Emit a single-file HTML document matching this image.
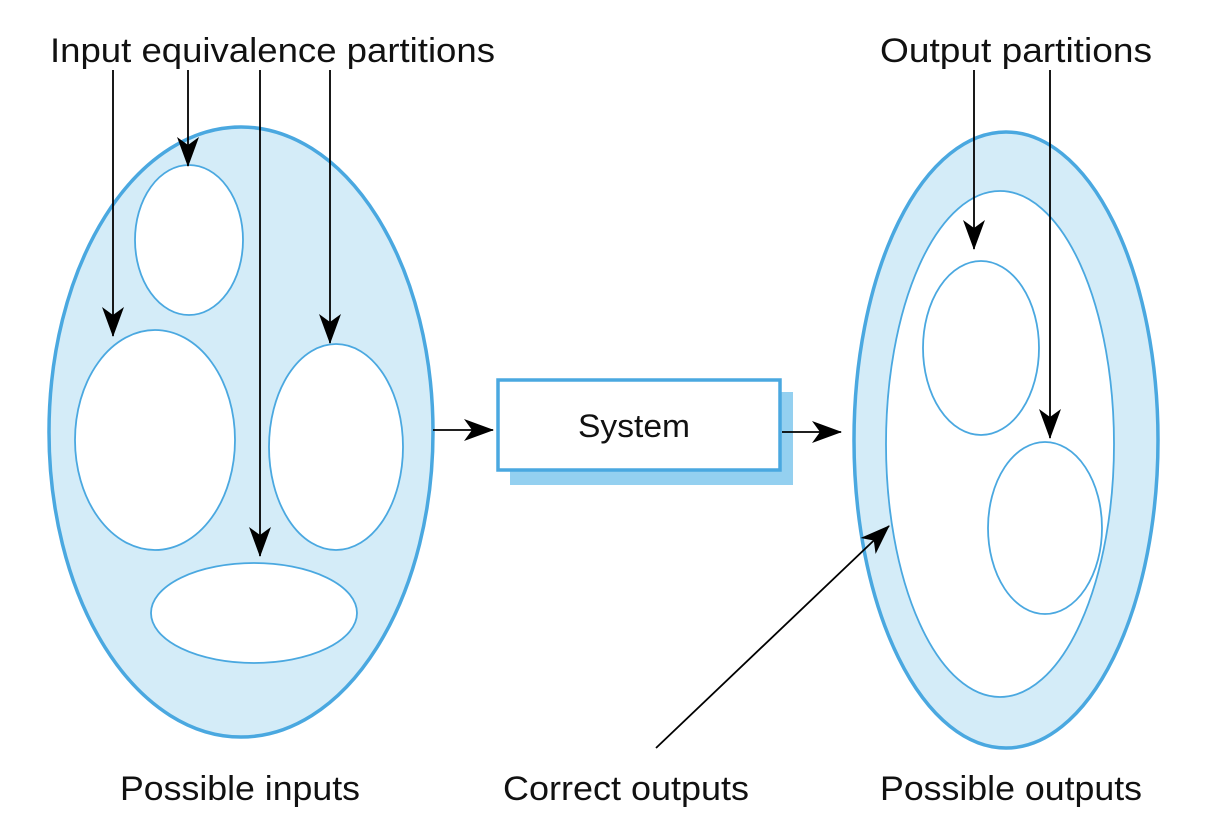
<!DOCTYPE html>
<html><head><meta charset="utf-8"><style>
html,body{margin:0;padding:0;background:#fff;}
svg{display:block;}
text{font-family:"Liberation Sans",sans-serif;fill:#111;}
</style></head><body>
<svg width="1214" height="824" viewBox="0 0 1214 824" xmlns="http://www.w3.org/2000/svg">
<defs>
<marker id="b" markerWidth="30" markerHeight="22" refX="29" refY="11" orient="auto" markerUnits="userSpaceOnUse">
<path d="M0,0 L30,11 L0,22 L8,11 Z" fill="#000"/>
</marker>
</defs>
<ellipse cx="241" cy="432" rx="192" ry="305" fill="#d4ecf8" stroke="#4aa8e0" stroke-width="3.5"/>
<g fill="#fff" stroke="#4aa8e0" stroke-width="1.8">
<ellipse cx="189" cy="240" rx="54" ry="75"/>
<ellipse cx="155" cy="440" rx="80" ry="110"/>
<ellipse cx="336" cy="447" rx="67" ry="103"/>
<ellipse cx="254" cy="613" rx="103" ry="50"/>
</g>
<ellipse cx="1006" cy="440" rx="152" ry="308" fill="#d4ecf8" stroke="#4aa8e0" stroke-width="3.5"/>
<g fill="#fff" stroke="#4aa8e0" stroke-width="1.8">
<ellipse cx="1000" cy="444" rx="114" ry="253"/>
<ellipse cx="981" cy="348" rx="58" ry="87"/>
<ellipse cx="1045" cy="528" rx="57" ry="86"/>
</g>
<rect x="510" y="392" width="283" height="93" fill="#94d0f0"/>
<rect x="498" y="380" width="282" height="90" fill="#fff" stroke="#4aa8e0" stroke-width="3.5"/>
<text x="578" y="437" font-size="32" textLength="112" lengthAdjust="spacingAndGlyphs">System</text>
<g stroke="#000" stroke-width="1.8" fill="none">
<line x1="113" y1="70" x2="113" y2="336" marker-end="url(#b)"/>
<line x1="188" y1="70" x2="188" y2="166" marker-end="url(#b)"/>
<line x1="260" y1="70" x2="260" y2="556" marker-end="url(#b)"/>
<line x1="330" y1="70" x2="330" y2="343" marker-end="url(#b)"/>
<line x1="974" y1="70" x2="974" y2="249" marker-end="url(#b)"/>
<line x1="1050" y1="70" x2="1050" y2="438" marker-end="url(#b)"/>
<line x1="433" y1="430" x2="493" y2="430" marker-end="url(#b)"/>
<line x1="782" y1="432" x2="841" y2="432" marker-end="url(#b)"/>
<line x1="656" y1="748" x2="889" y2="526" marker-end="url(#b)"/>
</g>
<g font-size="34" lengthAdjust="spacingAndGlyphs">
<text x="50" y="62" textLength="445" lengthAdjust="spacingAndGlyphs">Input equivalence partitions</text>
<text x="880" y="62" textLength="272" lengthAdjust="spacingAndGlyphs">Output partitions</text>
<text x="120" y="800" textLength="240" lengthAdjust="spacingAndGlyphs">Possible inputs</text>
<text x="503" y="800" textLength="246" lengthAdjust="spacingAndGlyphs">Correct outputs</text>
<text x="880" y="800" textLength="262" lengthAdjust="spacingAndGlyphs">Possible outputs</text>
</g>
</svg>
</body></html>
